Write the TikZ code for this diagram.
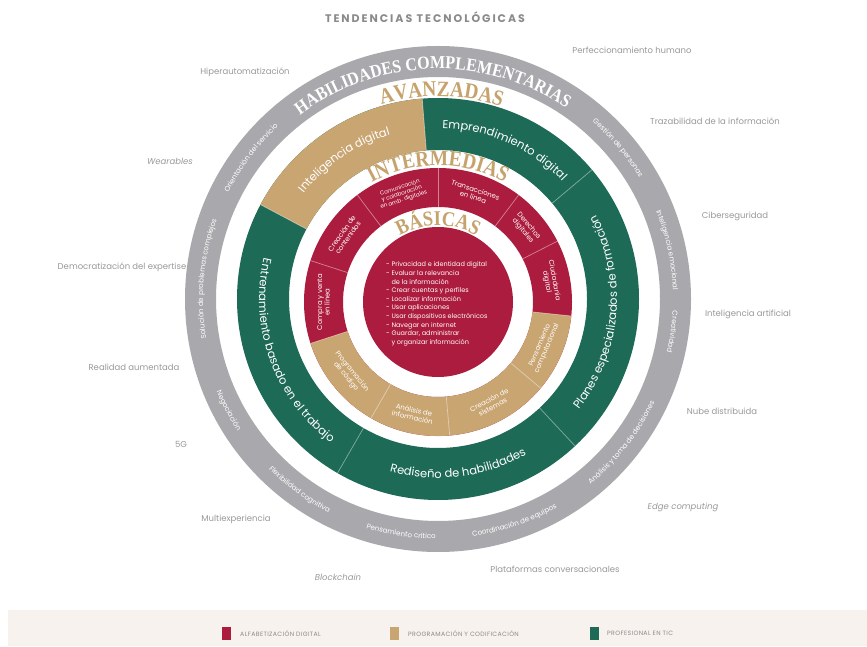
\documentclass[tikz,border=0pt]{standalone}
\usepackage{fontspec}
\setmainfont{Poppins}
\newfontfamily\headfont{Liberation Serif}[FakeStretch=0.88]
\usetikzlibrary{decorations.text,calc}
\definecolor{cred}{HTML}{AC1C3E}
\definecolor{ctan}{HTML}{C9A572}
\definecolor{cgreen}{HTML}{1D6A56}
\definecolor{cgray}{HTML}{A9A9AD}
\definecolor{clabel}{HTML}{999999}
\definecolor{ctitle}{HTML}{8A8A8A}
\definecolor{chead}{HTML}{C6A36D}
\definecolor{cband}{HTML}{F8F2EE}
\newcommand\annsec[5]{\fill[#1] (#2:#5) arc[start angle=#2,end angle=#3,radius=#5] -- (#3:#4) arc[start angle=#3,end angle=#2,radius=#4] -- cycle;}
\newcommand\sepline[3]{\draw[white,opacity=0.45,line width=0.7pt] (#1:#2) -- (#1:#3);}
\newcommand\arctext[6]{\path[decorate,decoration={text along path,text align=center,text color=#6,text={|#1|#2}}] (#4:#3) arc[start angle=#4,end angle=#5,radius=#3];}
\newcommand\gsmall{\fontsize{7.1}{7.5}\selectfont}
\newcommand\rbig{\fontsize{11.5}{12}\selectfont}
\newcommand\hfont{\headfont\bfseries\fontsize{22}{22}\selectfont}
\newcommand\bfont{\headfont\bfseries\fontsize{21}{21}\selectfont}
\tikzset{
  outlbl/.style={font=\fontsize{8.5}{10}\selectfont, text=clabel, inner sep=0pt},
  seglbl/.style={font=\fontsize{6.9}{7.6}\selectfont, text=white, align=center, inner sep=0pt},
  legtext/.style={font=\fontsize{6.2}{7}\selectfont\addfontfeatures{LetterSpace=6}, text=ctitle, anchor=west, inner sep=0pt},
}
\begin{document}
\begin{tikzpicture}[x=1pt,y=1pt]
\useasboundingbox (0,0) rectangle (867,646);
\fill[white] (0,0) rectangle (867,646);
\fill[cband] (8,0) rectangle (867,36);
% title
\node[font=\bfseries\fontsize{11}{12}\selectfont\addfontfeatures{LetterSpace=18}, text=ctitle] (title) at (425,629) {TENDENCIAS TECNOLÓGICAS};
% outer ring and avanzadas
\begin{scope}[shift={(438,347)}]
  \fill[cgray, even odd rule] (0,0) circle[radius=253] (0,0) circle[radius=222];
  \fill[cgreen, even odd rule] (0,0) circle[radius=201] (0,0) circle[radius=149];
  \annsec{ctan}{94.5}{152}{149}{201}
  \sepline{94.5}{149}{201}
  \sepline{152}{149}{201}
  \sepline{240}{149}{201}
  \sepline{313}{149}{201}
  \sepline{40}{149}{201}
  % heading texts
  \arctext{\headfont\bfseries\fontsize{18.2}{18}\selectfont}{HABILIDADES COMPLEMENTARIAS}{230}{160}{23}{white}
  \arctext{\hfont}{AVANZADAS}{202.5}{129}{49}{chead}
  % gray ring labels
  \arctext{\gsmall}{Orientación del servicio}{235}{173}{113}{white}
  \arctext{\gsmall}{Solución de problemas complejos}{235}{205}{145}{white}
  \arctext{\gsmall}{Gestión de personas}{235}{70}{10}{white}
  \arctext{\gsmall}{Inteligencia emocional}{235}{42}{-18}{white}
  \arctext{\gsmall}{Creatividad}{235}{22}{-38}{white}
  \arctext{\gsmall}{Análisis y toma de decisiones}{240}{-68}{-8}{white}
  \arctext{\gsmall}{Coordinación de equipos}{240}{-101}{-41}{white}
  \arctext{\gsmall}{Pensamiento crítico}{240}{-129}{-69}{white}
  \arctext{\gsmall}{Flexibilidad cognitiva}{240}{204}{264}{white}
  \arctext{\gsmall}{Negociación}{240}{178}{238}{white}
  % avanzadas labels
  \arctext{\rbig}{Inteligencia digital}{171}{164}{84}{white}
  \arctext{\rbig}{Emprendimiento digital}{171}{106}{26}{white}
  \arctext{\rbig}{Entrenamiento basado en el trabajo}{179}{145}{255}{white}
  \arctext{\rbig}{Rediseño de habilidades}{179}{237}{317}{white}
  \arctext{\rbig}{Planes especializados de formación}{179}{-60}{50}{white}
\end{scope}
% intermedias and basicas
\begin{scope}[shift={(438,344)}]
  \fill[cred, even odd rule] (0,0) circle[radius=134] (0,0) circle[radius=95];
  \annsec{ctan}{198}{354}{95}{134}
  \foreach \a in {90,127,162,198,240,275,320,354,27,53} {\sepline{\a}{95}{134}}
  \arctext{\hfont}{INTERMEDIAS}{136.5}{150}{30}{chead}
  \fill[cred] (0,0) circle[radius=75];
  \arctext{\bfont}{BÁSICAS}{76.5}{160}{20}{chead}
  \node[seglbl, font=\fontsize{5.6}{6.2}\selectfont, rotate=18.5] (s1) at (108.5:114) {Comunicación\\y colaboración\\en amb. digitales};
  \node[seglbl, rotate=-18.5] (s2) at (71.5:114.5) {Transacciones\\en línea};
  \node[seglbl, rotate=-50] (s3) at (40:114.5) {Derechos\\digitales};
  \node[seglbl, rotate=-79.5] (s4) at (10.5:114.5) {Ciudadanía\\digital};
  \node[seglbl, rotate=67] (s5) at (-23:114.5) {Pensamiento\\computacional};
  \node[seglbl, rotate=27.5] (s6) at (-62.5:114.5) {Creación de\\sistemas};
  \node[seglbl, rotate=-12.5] (s7) at (257.5:114.5) {Análisis de\\información};
  \node[seglbl, rotate=-51] (s8) at (219:114.5) {Programación\\de código};
  \node[seglbl, rotate=90] (s9) at (180:114.5) {Compra y venta\\en línea};
  \node[seglbl, rotate=54.5] (s10) at (144.5:114.5) {Creación de\\contenidos};
\end{scope}
% central list
\node[font=\fontsize{6.5}{8.6}\selectfont, text=white, align=left, anchor=west, inner sep=0pt] (basic) at (386,342) {%
- Privacidad e identidad digital\\
- Evaluar la relevancia\\
\phantom{- }de la información\\
- Crear cuentas y perfiles\\
- Localizar información\\
- Usar aplicaciones\\
- Usar dispositivos electrónicos\\
- Navegar en internet\\
- Guardar, administrar\\
\phantom{- }y organizar información};
% outer labels
\node[outlbl] (t1) at (245,574) {Hiperautomatización};
\node[outlbl] (t2) at (632,596) {Perfeccionamiento humano};
\node[outlbl] (t3) at (715,525) {Trazabilidad de la información};
\node[outlbl, font=\fontsize{8.5}{10}\selectfont\itshape] (t4) at (170,485) {Wearables};
\node[outlbl] (t5) at (122,379) {Democratización del expertise};
\node[outlbl] (t6) at (735,430) {Ciberseguridad};
\node[outlbl] (t7) at (748,332) {Inteligencia artificial};
\node[outlbl] (t8) at (134,279) {Realidad aumentada};
\node[outlbl] (t9) at (722,235) {Nube distribuida};
\node[outlbl] (t10) at (181,202) {5G};
\node[outlbl, font=\fontsize{8.5}{10}\selectfont\itshape] (t11) at (683,139) {Edge computing};
\node[outlbl] (t12) at (236,127) {Multiexperiencia};
\node[outlbl, font=\fontsize{8.5}{10}\selectfont\itshape] (t13) at (338,69) {Blockchain};
\node[outlbl] (t14) at (555,77) {Plataformas conversacionales};
% legend
\fill[cred] (222,6) rectangle (231,19);
\node[legtext] (l1) at (240,12.5) {ALFABETIZACIÓN DIGITAL};
\fill[ctan] (390,6) rectangle (399,19);
\node[legtext] (l2) at (408,12.5) {PROGRAMACIÓN Y CODIFICACIÓN};
\fill[cgreen] (590,6) rectangle (599,19);
\node[legtext] (l3) at (607,12.5) {PROFESIONAL EN TIC};
\end{tikzpicture}
\end{document}
